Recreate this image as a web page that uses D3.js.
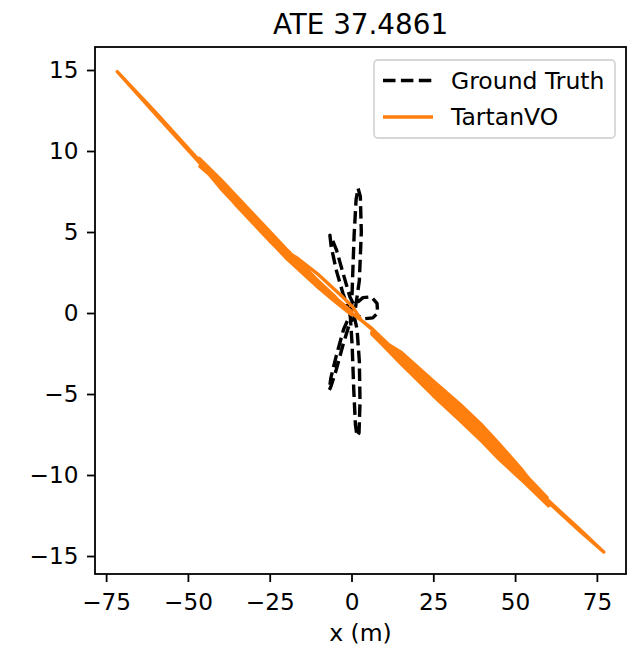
<!DOCTYPE html>
<html>
<head>
<meta charset="utf-8">
<script src="https://cdn.jsdelivr.net/npm/d3@7"></script>
<style>
  body { margin: 0; background: #fff; }
  text { font-family: "DejaVu Sans", sans-serif; fill: #000; }
</style>
</head>
<body>
<div id="container"></div>
<script>
// ground truth trajectory (m)
const gtX = [0.0, 0.3, 0.8, 1.4, 2.0, 2.7, 3.0, 2.4, 1.2, -0.5, -2.5, -4.6, -6.2, -6.6, -6.2, -4.6, -2.6, -0.8,
             1.5, 3.5, 6.0, 7.8, 8.0, 6.5, 4.0, 1.5, -0.5, -2.5, -4.8, -6.4, -6.8, -6.3, -4.6, -2.4, -0.4,
             0.2, 0.7, 1.2, 1.7, 2.3, 2.6, 2.4, 1.7, 0.6];
const gtY = [0.0, 2.0, 4.8, 7.0, 7.7, 7.2, 5.0, 2.0, 0.3, 1.0, 2.4, 3.9, 4.7, 4.8, 4.1, 2.6, 1.2, 0.2,
             0.6, 0.95, 1.0, 0.6, 0.0, -0.3, -0.35, -0.15, -0.6, -1.9, -3.6, -4.6, -4.75, -4.0, -2.6, -1.0, -0.1,
             -2.0, -4.8, -6.9, -7.6, -7.4, -5.5, -3.0, -1.0, 0.0];

// TartanVO estimate (m)
const voX = [0.0, -5, -10, -18.8, -30, -46.3, -60, -71.6,
             -60, -46.3, -40, -30, -20, -10, -5, 0.0,
             -5, -10, -20, -30, -40, -46.6,
             -44, -35, -25, -18, -12, -5, -1,
             -8, -15, -25, -35, -46.3,
             -38, -28, -20, -17, -10, -2.5, 0.5,
             3, 6.2, 15, 25, 33, 45, 60, 70, 77.1,
             70, 60, 52, 45, 33, 25, 15, 6.2,
             15, 25, 33, 40, 45, 52, 59.8,
             52, 45, 40, 33, 25, 15, 6.2,
             15, 25, 33, 40, 45, 52, 60.2,
             52, 45, 40, 33, 25, 15, 6.3,
             15, 25, 33, 40, 45, 52, 58,
             45, 33, 25, 15, 6.2,
             3, 0.0];
const voY = [0.1, 0.95, 1.8, 3.45, 5.85, 9.36, 12.41, 14.9,
             12.29, 9.24, 7.7, 5.55, 3.4, 1.55, 0.7, -0.1,
             1.0, 1.95, 3.95, 6.1, 8.25, 9.55,
             8.7, 6.6, 4.45, 3.05, 1.95, 0.75, 0.1,
             1.45, 2.8, 4.9, 7.05, 9.05,
             7.65, 5.55, 3.8, 3.45, 2.35, 0.95, 0.35,
             -0.45, -1.0, -2.75, -4.65, -6.1, -8.5, -11.55, -13.4, -14.75,
             -13.5, -11.65, -10.1, -8.7, -6.3, -4.85, -2.9, -1.2,
             -2.5, -4.3, -5.7, -7.05, -8.15, -9.75, -11.4,
             -10.25, -8.9, -7.85, -6.5, -5.0, -3.05, -1.3,
             -2.4, -4.2, -5.6, -6.95, -8.05, -9.65, -11.9,
             -10.3, -9.0, -7.95, -6.6, -5.1, -3.1, -1.3,
             -2.5, -4.3, -5.75, -7.1, -8.2, -9.7, -11.1,
             -8.4, -6.0, -4.55, -2.65, -0.95,
             -0.45, 0.0];

const xTicks = [-75, -50, -25, 0, 25, 50, 75];
const yTicks = [-15, -10, -5, 0, 5, 10, 15];
const seriesNames = ["Ground Truth", "TartanVO"];
const title = "ATE 37.4861";

const w = 628, h = 652;
const margin = {top: 47, right: 2, bottom: 78, left: 95};
const fs = 23.2;

const x = d3.scaleLinear().domain([-78.4, 83.9]).range([margin.left, w - margin.right]);
const y = d3.scaleLinear().domain([-16.11, 16.42]).range([h - margin.bottom, margin.top]);

const svg = d3.select("#container")
    .append("svg")
    .attr("width", w)
    .attr("height", h);

const line = d3.line().x((d) => x(d[0])).y((d) => y(d[1]));

svg.append("path")
    .datum(gtX.map((v, i) => [v, gtY[i]]))
    .attr("d", line)
    .attr("fill", "none")
    .attr("stroke", "#000")
    .attr("stroke-width", 3.4)
    .attr("stroke-dasharray", "12.5,5.4")
    .attr("stroke-linejoin", "round");

svg.append("path")
    .datum(voX.map((v, i) => [v, voY[i]]))
    .attr("d", line)
    .attr("fill", "none")
    .attr("stroke", "#ff7f0e")
    .attr("stroke-width", 3.4)
    .attr("stroke-linejoin", "round")
    .attr("stroke-linecap", "square");

// frame
svg.append("rect")
    .attr("x", margin.left)
    .attr("y", margin.top)
    .attr("width", w - margin.right - margin.left)
    .attr("height", h - margin.bottom - margin.top)
    .attr("fill", "none")
    .attr("stroke", "#000")
    .attr("stroke-width", 1.8);

const xAxis = svg.append("g")
    .attr("transform", "translate(0," + (h - margin.bottom) + ")")
    .call(d3.axisBottom(x).tickValues(xTicks).tickSize(8).tickPadding(12));

const yAxis = svg.append("g")
    .attr("transform", "translate(" + margin.left + ",0)")
    .call(d3.axisLeft(y).tickValues(yTicks).tickSize(8).tickPadding(8.5));

[xAxis, yAxis].forEach((g) => {
    g.select(".domain").remove();
    g.selectAll(".tick line").attr("stroke", "#000").attr("stroke-width", 1.8);
    g.selectAll(".tick text").attr("font-size", fs).attr("font-family", "DejaVu Sans").attr("fill", "#000");
});

svg.append("text")
    .attr("x", (margin.left + w - margin.right) / 2)
    .attr("y", 33.5)
    .attr("text-anchor", "middle")
    .attr("font-size", 27.8)
    .text(title);

svg.append("text")
    .attr("x", (margin.left + w - margin.right) / 2)
    .attr("y", 641)
    .attr("text-anchor", "middle")
    .attr("font-size", 23.5)
    .text("x (m)");

// y label is cut off at the left edge in the original
svg.append("clipPath")
    .attr("id", "ylab-clip")
    .append("rect")
    .attr("x", 7).attr("y", 250).attr("width", 20).attr("height", 120);

svg.append("text")
    .attr("clip-path", "url(#ylab-clip)")
    .attr("transform", "translate(10.5," + ((margin.top + h - margin.bottom) / 2) + ") rotate(-90)")
    .attr("text-anchor", "middle")
    .attr("font-size", 23.5)
    .text("y (m)");

// legend
const legend = svg.append("g").attr("transform", "translate(374,60)");

legend.append("rect")
    .attr("width", 241)
    .attr("height", 78)
    .attr("rx", 4)
    .attr("fill", "#fff")
    .attr("fill-opacity", 0.8)
    .attr("stroke", "#d6d6d6")
    .attr("stroke-width", 1.8);

legend.selectAll("line")
    .data(seriesNames)
    .enter()
    .append("line")
    .attr("x1", 9)
    .attr("x2", 59)
    .attr("y1", (d, i) => 20.5 + i * 36.5)
    .attr("y2", (d, i) => 20.5 + i * 36.5)
    .attr("stroke", (d, i) => i ? "#ff7f0e" : "#000")
    .attr("stroke-width", 3.4)
    .attr("stroke-dasharray", (d, i) => i ? null : "12.5,5.4");

legend.selectAll("text")
    .data(seriesNames)
    .enter()
    .append("text")
    .attr("x", 77)
    .attr("y", (d, i) => 20.5 + i * 36.5 + 8.3)
    .attr("font-size", 23.5)
    .text((d) => d);
</script>
</body>
</html>
